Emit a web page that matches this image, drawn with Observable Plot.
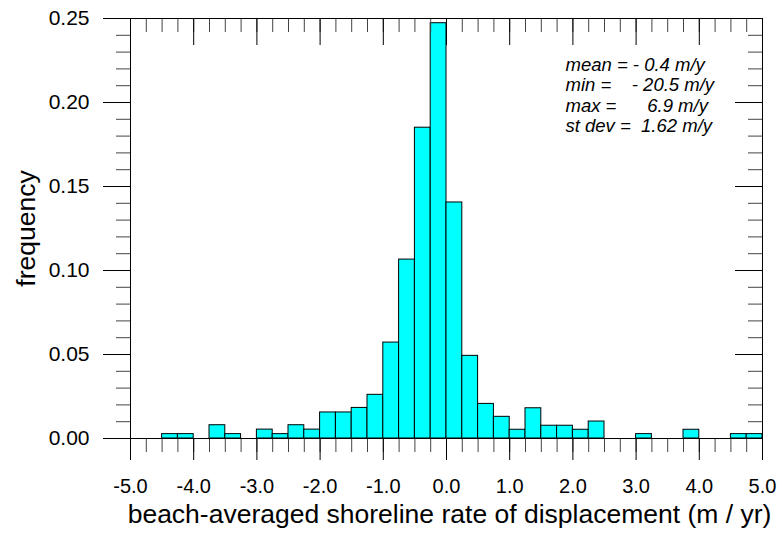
<!DOCTYPE html>
<html>
<head>
<meta charset="utf-8">
<script src="https://cdn.jsdelivr.net/npm/d3@7"></script>
<script src="https://cdn.jsdelivr.net/npm/@observablehq/plot@0.6"></script>
<style>
  html, body { margin: 0; padding: 0; background: #fff; }
  svg { display: block; }
</style>
</head>
<body>
<div id="chart"></div>
<script>
// ---- data ----
const binWidth = 0.25;
const binStart = [-4.5, -4.25, -3.75, -3.5, -3.0, -2.75, -2.5, -2.25, -2.0, -1.75, -1.5, -1.25,
                  -1.0, -0.75, -0.5, -0.25, 0.0, 0.25, 0.5, 0.75, 1.0, 1.25, 1.5, 1.75, 2.0, 2.25,
                  3.0, 3.75, 4.5, 4.75];
const freq = [0.0026, 0.0026, 0.0079, 0.0026, 0.0053, 0.0026, 0.0079, 0.0053, 0.0155, 0.0155, 0.0182, 0.026,
              0.0571, 0.1065, 0.185, 0.2472, 0.1405, 0.0492, 0.0206, 0.0129, 0.0052, 0.018, 0.0076, 0.0076, 0.0052, 0.0101,
              0.0026, 0.0052, 0.0026, 0.0026];
const xMajorTicks = [-5, -4, -3, -2, -1, 0, 1, 2, 3, 4, 5];
const xTickLabels = ["-5.0", "-4.0", "-3.0", "-2.0", "-1.0", "0.0", "1.0", "2.0", "3.0", "4.0", "5.0"];
const yMajorTicks = [0, 0.05, 0.10, 0.15, 0.20, 0.25];
const yTickLabels = ["0.00", "0.05", "0.10", "0.15", "0.20", "0.25"];
const xMinorStep = 0.25;
const yMinorStep = 0.01;
const statsLines = ["mean = - 0.4 m/y", "min =    - 20.5 m/y", "max =      6.9 m/y", "st dev =  1.62 m/y"];
const xTitle = "beach-averaged shoreline rate of displacement (m / yr)";
const yTitle = "frequency";

// ---- build ----
const bars = binStart.map((s, i) => ({x1: s, x2: s + binWidth, f: freq[i]}));
const xMinor = d3.range(-5, 5 + 1e-9, xMinorStep).map(v => +v.toFixed(4));
const yMinor = d3.range(0, 0.25 + 1e-9, yMinorStep).map(v => +v.toFixed(4));
const xMaj = xMajorTicks.map((v, i) => ({v, label: xTickLabels[i]}));
const yMaj = yMajorTicks.map((v, i) => ({v, label: yTickLabels[i]}));

const W = 782, H = 542;
const mL = 130, mR = 20, mT = 18, mB = 104;
const fw = W - mL - mR, fh = H - mT - mB;
const nb = s => s.replace(/ /g, "\u00A0");

const chart = Plot.plot({
  width: W,
  height: H,
  marginLeft: mL, marginRight: mR, marginTop: mT, marginBottom: mB,
  style: {fontFamily: "'Liberation Sans', Arial, sans-serif", background: "#fff", color: "#000"},
  x: {domain: [-5, 5], axis: null},
  y: {domain: [0, 0.25], axis: null},
  marks: [
    Plot.rect(bars, {x1: "x1", x2: "x2", y1: 0, y2: "f", fill: "#00ffff", stroke: "#000", strokeWidth: 1}),
    // top inward ticks
    Plot.tickX(xMinor, {x: d => d, insetBottom: fh - 14, stroke: "#444"}),
    Plot.tickX(xMaj, {x: "v", insetBottom: fh - 27, stroke: "#000"}),
    // bottom outward ticks
    Plot.tickX(xMinor, {x: d => d, insetTop: fh, insetBottom: -14, stroke: "#444"}),
    Plot.tickX(xMaj, {x: "v", insetTop: fh, insetBottom: -22, stroke: "#000"}),
    // left outward ticks
    Plot.tickY(yMinor, {y: d => d, insetLeft: -14, insetRight: fw, stroke: "#444"}),
    Plot.tickY(yMaj, {y: "v", insetLeft: -27, insetRight: fw, stroke: "#000"}),
    // right inward ticks
    Plot.tickY(yMinor, {y: d => d, insetLeft: fw - 14, stroke: "#444"}),
    Plot.tickY(yMaj, {y: "v", insetLeft: fw - 27, stroke: "#000"}),
    Plot.frame({stroke: "#000", strokeWidth: 1}),
    // tick labels
    Plot.text(xMaj, {x: "v", text: "label", frameAnchor: "bottom", dy: 54, fontSize: 20, fill: "#000"}),
    Plot.text(yMaj, {y: "v", text: "label", frameAnchor: "left", dx: -41, textAnchor: "end", fontSize: 21, fill: "#000"}),
    // axis titles
    Plot.text([xTitle], {text: d => d, frameAnchor: "bottom", dx: 3, dy: 84, fontSize: 26.5, fill: "#000"}),
    Plot.text([yTitle], {text: d => d, frameAnchor: "left", dx: -104, rotate: -90, textAnchor: "middle", fontSize: 26.5, fill: "#000"}),
    // stats annotation
    Plot.text([statsLines.map(nb).join("\n")], {text: d => d, frameAnchor: "top-left", dx: 435, dy: 38,
      textAnchor: "start", lineAnchor: "top", lineHeight: 1.1, fontSize: 18.5, fontStyle: "italic", fill: "#000"})
  ]
});
document.getElementById("chart").appendChild(chart);
</script>
</body>
</html>
